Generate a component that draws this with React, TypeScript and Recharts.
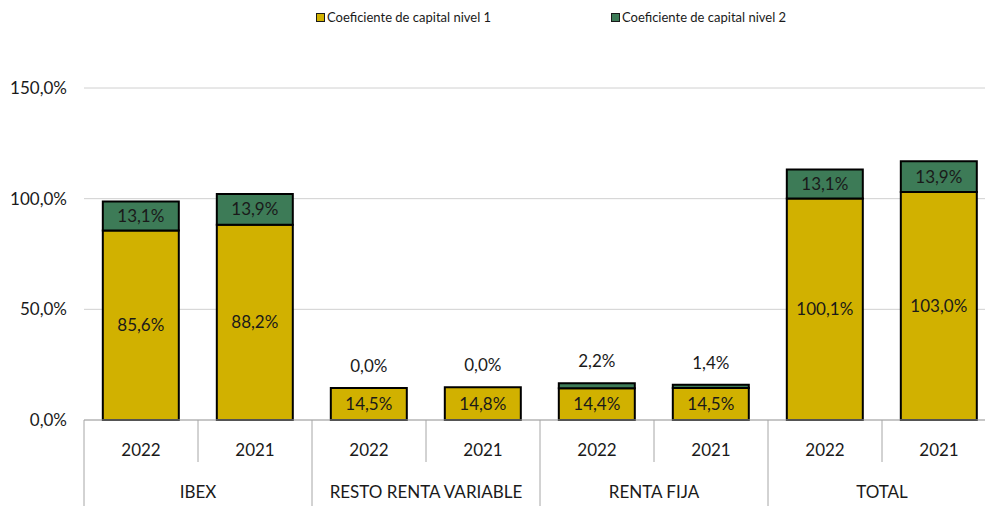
import { Bar, BarChart, CartesianGrid, LabelList, XAxis, YAxis } from "recharts";

const GROUPS = ["IBEX", "RESTO RENTA VARIABLE", "RENTA FIJA", "TOTAL"];
const YEARS = ["2022", "2021", "2022", "2021", "2022", "2021", "2022", "2021"];
const NIVEL1 = [85.6, 88.2, 14.5, 14.8, 14.4, 14.5, 100.1, 103.0];
const NIVEL2 = [13.1, 13.9, 0.0, 0.0, 2.2, 1.4, 13.1, 13.9];
const Y_TICKS = [0, 50, 100, 150];

const YELLOW = "#d1b100";
const GREEN = "#3d7b57";
const GRID = "#d0d0d0";
const FONT = "Lato, 'Noto Sans', sans-serif";
const FS = 17;

const data = YEARS.map((year, i) => ({
  key: `${i}`,
  year,
  group: GROUPS[Math.floor(i / 2)],
  n1: NIVEL1[i],
  n2: NIVEL2[i],
}));

const pct = (v: number) => `${v.toFixed(1).replace(".", ",")}%`;

function CategoryTick(props: any) {
  const { x, y, index, width } = props;
  const bw = width / YEARS.length;
  const left = x - bw / 2;
  const groupStart = index % 2 === 0;
  const last = index === YEARS.length - 1;
  return (
    <g>
      <line x1={left} x2={left} y1={y} y2={groupStart ? y + 90 : y + 42} stroke="#a6a6a6" />
      {last && <line x1={left + bw} x2={left + bw} y1={y} y2={y + 90} stroke="#a6a6a6" />}
      <text x={x} y={y + 36} textAnchor="middle" fontSize={FS} fill="#1a1a1a" fontFamily={FONT}>
        {YEARS[index]}
      </text>
      {groupStart && (
        <text x={x + bw / 2} y={y + 78} textAnchor="middle" fontSize={FS} fill="#1a1a1a" fontFamily={FONT}>
          {data[index].group}
        </text>
      )}
    </g>
  );
}

// nivel 1 label, plus the small nivel 2 values which sit above the stack
function BaseLabel(props: any) {
  const { x, y, width, height, value, index } = props;
  const top = NIVEL2[index];
  const perUnit = value ? height / value : 0;
  return (
    <g>
      <text x={x + width / 2} y={y + height / 2} dy={6} textAnchor="middle" fontSize={FS} fill="#1a1a1a" fontFamily={FONT}>
        {pct(value)}
      </text>
      {top < 5 && (
        <text x={x + width / 2} y={y - top * perUnit - 22} dy={6} textAnchor="middle" fontSize={FS} fill="#1a1a1a" fontFamily={FONT}>
          {pct(top)}
        </text>
      )}
    </g>
  );
}

function TopLabel(props: any) {
  const { x, y, width, height, value } = props;
  if (value < 5) return null;
  return (
    <text x={x + width / 2} y={y + height / 2} dy={6} textAnchor="middle" fontSize={FS} fill="#1a1a1a" fontFamily={FONT}>
      {pct(value)}
    </text>
  );
}

function LegendBox() {
  const item = (color: string, label: string, left: number) => (
    <div style={{ position: "absolute", left, top: 9, display: "flex", alignItems: "center", fontSize: 13, color: "#1a1a1a", fontFamily: FONT, whiteSpace: "nowrap" }}>
      <span style={{ width: 7, height: 7, background: color, border: "1px solid #1a1a1a", marginRight: 2, display: "inline-block" }} />
      {label}
    </div>
  );
  return (
    <>
      {item(YELLOW, "Coeficiente de capital nivel 1", 316)}
      {item(GREEN, "Coeficiente de capital nivel 2", 611)}
    </>
  );
}

export default function App() {
  return (
    <div style={{ position: "fixed", left: 0, top: 0, width: 985, height: 506, overflow: "hidden", background: "#fff" }}>
      <LegendBox />
      <BarChart
        width={1000}
        height={506}
        data={data}
        margin={{ top: 88, right: 4, left: 0, bottom: 0 }}
        barCategoryGap="16.5%"
      >
        <CartesianGrid stroke={GRID} vertical={false} />
        <XAxis
          dataKey="key"
          height={86}
          interval={0}
          tickLine={false}
          tickSize={0}
          tickMargin={0}
          axisLine={{ stroke: "#a6a6a6" }}
          tick={<CategoryTick />}
        />
        <YAxis
          domain={[0, 150]}
          ticks={Y_TICKS}
          width={84}
          axisLine={false}
          tickLine={false}
          tickSize={0}
          tickMargin={17}
          tickFormatter={pct}
          tick={{ fontSize: FS, fill: "#1a1a1a", fontFamily: FONT }}
        />
        <Bar dataKey="n1" stackId="a" fill={YELLOW} stroke="#000" strokeWidth={2} isAnimationActive={false}>
          <LabelList dataKey="n1" content={<BaseLabel />} />
        </Bar>
        <Bar dataKey="n2" stackId="a" fill={GREEN} stroke="#000" strokeWidth={2} isAnimationActive={false}>
          <LabelList dataKey="n2" content={<TopLabel />} />
        </Bar>
      </BarChart>
    </div>
  );
}
